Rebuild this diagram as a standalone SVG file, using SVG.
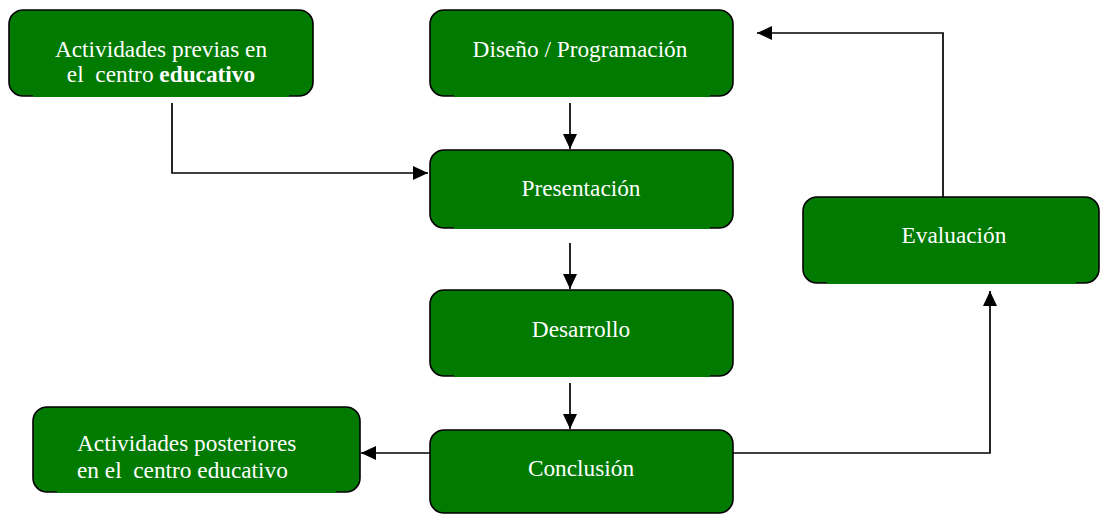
<svg xmlns="http://www.w3.org/2000/svg" width="1100" height="514" viewBox="0 0 1100 514">
<style>
.box{fill:#007a00;stroke:#000;stroke-width:1.6}
.cov{fill:#007a00}
.t{font-family:"Liberation Serif","Times New Roman","DejaVu Serif",serif;font-size:23.3px;fill:#fff}
.c{text-anchor:middle}
.ln{fill:none;stroke:#000;stroke-width:1.7}
</style>
<defs>
<marker id="ah" markerUnits="userSpaceOnUse" markerWidth="17" markerHeight="17" viewBox="0 0 17 17" refX="16" refY="8.5" orient="auto">
<path d="M1,1.5 L16,8.5 L1,15.5 Z" fill="#000"/>
</marker>
</defs>
<rect width="1100" height="514" fill="#fff"/>
<g id="connectors">
<path class="ln" d="M172,103 V173 H428" marker-end="url(#ah)"/>
<path class="ln" d="M570,103 V149" marker-end="url(#ah)"/>
<path class="ln" d="M570,243 V289" marker-end="url(#ah)"/>
<path class="ln" d="M570,383 V429" marker-end="url(#ah)"/>
<path class="ln" d="M430,453 H361" marker-end="url(#ah)"/>
<path class="ln" d="M733,453 H990 V291" marker-end="url(#ah)"/>
<path class="ln" d="M943,197 V33 H757" marker-end="url(#ah)"/>
</g>
<g id="previas">
<rect class="box" x="9" y="10" width="304" height="86" rx="14"/>
<rect class="cov" x="33" y="94" width="256" height="3"/>
<text class="t c" x="161" y="57">Actividades previas en</text>
<text class="t c" x="161" y="82" xml:space="preserve">el  centro <tspan font-weight="bold">educativo</tspan></text>
</g>
<g id="diseno">
<rect class="box" x="430" y="10" width="303" height="86" rx="14"/>
<rect class="cov" x="454" y="94" width="256" height="3"/>
<text class="t c" x="580" y="57">Diseño / Programación</text>
</g>
<g id="presentacion">
<rect class="box" x="430" y="150" width="303" height="78" rx="14"/>
<rect class="cov" x="454" y="226" width="256" height="3"/>
<text class="t c" x="581" y="196">Presentación</text>
</g>
<g id="desarrollo">
<rect class="box" x="430" y="290" width="303" height="86" rx="14"/>
<rect class="cov" x="454" y="374" width="256" height="3"/>
<text class="t c" x="581" y="337">Desarrollo</text>
</g>
<g id="conclusion">
<rect class="box" x="430" y="430" width="303" height="83" rx="14"/>
<text class="t c" x="581" y="476">Conclusión</text>
</g>
<g id="evaluacion">
<rect class="box" x="803" y="197" width="296" height="86" rx="14"/>
<rect class="cov" x="827" y="281" width="249" height="3"/>
<text class="t c" x="954" y="243">Evaluación</text>
</g>
<g id="posteriores">
<rect class="box" x="33" y="407" width="327" height="85" rx="14"/>
<rect class="cov" x="57" y="490" width="279" height="3"/>
<text class="t" x="77" y="451">Actividades posteriores</text>
<text class="t" x="77" y="478" xml:space="preserve">en el  centro educativo</text>
</g>
</svg>
